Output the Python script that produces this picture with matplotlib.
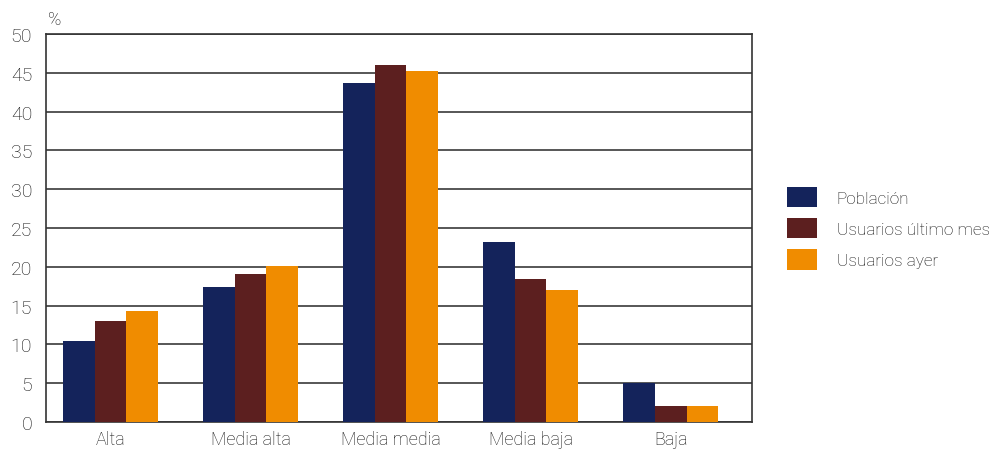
import matplotlib
matplotlib.use("Agg")
import matplotlib.pyplot as plt
import numpy as np

plt.rcParams['font.family'] = ['Roboto', 'Liberation Sans', 'DejaVu Sans']
plt.rcParams['font.weight'] = 'light'

categories = ["Alta", "Media alta", "Media media", "Media baja", "Baja"]
series_names = ["Población", "Usuarios último mes", "Usuarios ayer"]
poblacion = [10.5, 17.4, 43.7, 23.2, 5.0]
ultimo_mes = [13.0, 19.1, 46.0, 18.4, 2.1]
ayer = [14.3, 20.1, 45.2, 17.0, 2.1]
yticks = [0, 5, 10, 15, 20, 25, 30, 35, 40, 45, 50]
colors = ["#14235b", "#5c1f1f", "#f08c00"]
text_color = "#111111"

fig = plt.figure(figsize=(9.92, 4.52), dpi=100)
ax = fig.add_axes([0.0464, 0.064, 0.758 - 0.0464, 0.9226 - 0.064])

x = np.arange(len(categories))
w = 0.226
for i, (vals, name) in enumerate(zip([poblacion, ultimo_mes, ayer], series_names)):
    ax.bar(x + (i - 1) * w, vals, width=w, color=colors[i], label=name, zorder=3)

ax.set_xlim(-0.46, 4.58)
ax.set_ylim(0, 50)
ax.set_yticks(yticks)
ax.set_yticklabels([str(t) for t in yticks], fontsize=14, color=text_color)
ax.set_xticks(x)
ax.set_xticklabels(categories, fontsize=13, color=text_color)
ax.tick_params(axis='both', length=0)
ax.tick_params(axis='y', pad=10)
ax.tick_params(axis='x', pad=6)
ax.yaxis.grid(True, color="#3a3a3a", linewidth=1.2, zorder=0)
ax.set_axisbelow(True)
for s in ax.spines.values():
    s.set_color("#333333")
    s.set_linewidth(1.2)

fig.text(0.055, 0.955, "%", fontsize=13, color=text_color, ha="center", va="center")

leg = ax.legend(loc="center left", bbox_to_anchor=(1.028, 0.5), frameon=False,
                fontsize=12.3, handlelength=1.75, handleheight=1.5,
                handletextpad=1.15, labelspacing=0.6)
for t in leg.get_texts():
    t.set_color(text_color)

fig.savefig("out.png", dpi=100)
